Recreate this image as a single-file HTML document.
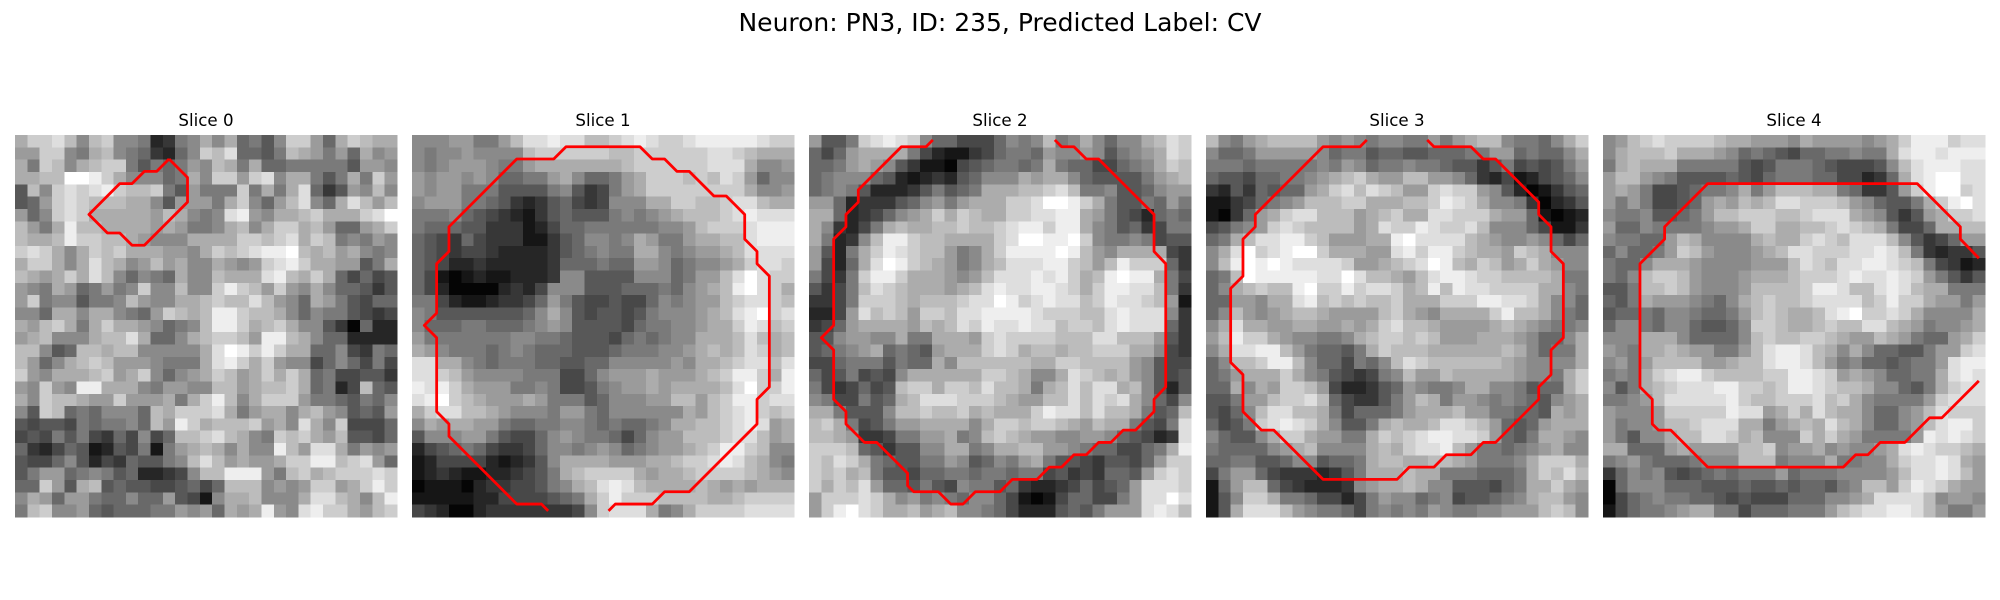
<!DOCTYPE html>
<html lang="en">
<head>
<meta charset="utf-8">
<title>Neuron: PN3, ID: 235, Predicted Label: CV</title>
<style>
html,body{margin:0;padding:0;background:#fff;width:2000px;height:600px;overflow:hidden}
svg{display:block}
text{font-family:"DejaVu Sans","Liberation Sans",sans-serif;fill:#000}
</style>
</head>
<body>
<svg id="figure" xmlns="http://www.w3.org/2000/svg" width="2000" height="600" viewBox="0 0 2000 600">
<rect x="0" y="0" width="2000" height="600" fill="#fff"/>
<text x="1000" y="31" text-anchor="middle" font-size="25">Neuron: PN3, ID: 235, Predicted Label: CV</text>
</svg>
<script>
const sliceTitles = ["Slice 0","Slice 1","Slice 2","Slice 3","Slice 4"];
const slice0 = [
[10,12,12,13,11,8,11,12,8,8,7,2,3,7,8,10,8,10,6,7,5,8,12,12,9,6,10,12,11,10,10],
[9,9,12,12,8,7,10,11,8,7,6,3,2,6,8,12,11,13,6,6,5,7,11,10,9,7,9,6,10,8,9],
[10,7,12,11,8,10,11,12,12,7,5,7,6,7,9,8,11,10,7,10,6,6,7,7,7,7,7,5,9,9,8],
[10,10,11,11,15,15,14,12,10,8,8,8,6,7,10,8,12,12,9,12,13,8,10,10,7,5,7,10,7,12,9],
[5,11,8,12,13,12,13,14,12,11,11,12,7,5,9,7,7,7,12,7,10,7,10,13,6,3,5,9,8,11,8],
[5,6,9,12,13,12,11,11,11,10,10,8,5,9,9,9,7,10,12,8,6,9,11,13,8,6,10,13,11,9,11],
[9,6,8,12,13,12,10,10,10,10,10,9,11,10,8,7,8,13,14,9,8,10,10,11,12,10,10,10,12,13,15],
[11,9,7,10,14,11,11,10,10,10,10,9,10,9,7,7,8,10,11,8,10,12,12,10,11,9,6,6,9,10,12],
[11,10,10,11,14,12,12,11,11,10,9,8,8,8,10,10,10,10,12,12,11,12,13,10,12,11,7,8,7,9,8],
[12,13,12,10,8,10,12,11,12,10,10,10,9,9,8,10,12,11,12,13,14,14,15,11,10,11,9,10,8,7,8],
[10,12,12,10,8,10,13,11,10,8,9,11,9,10,8,8,10,9,8,9,12,13,14,12,10,10,9,9,5,7,10],
[11,10,9,10,12,10,13,11,8,6,8,7,6,10,8,8,11,10,10,10,13,14,11,10,12,10,6,4,6,4,5],
[9,8,7,10,9,6,7,9,7,8,12,8,8,11,8,8,12,14,12,11,9,12,9,8,10,8,6,6,5,3,5],
[9,12,7,8,8,5,7,7,8,11,9,8,8,10,10,11,12,11,11,13,11,9,8,6,10,9,7,5,4,6,6],
[8,8,6,10,10,8,10,10,8,7,6,9,12,11,10,11,14,14,12,11,11,10,8,6,8,7,7,5,4,3,4],
[10,9,11,12,10,7,10,12,10,10,9,8,6,7,8,11,14,14,12,10,11,12,10,8,8,5,3,0,6,2,2],
[9,10,11,8,8,8,10,11,11,13,10,6,6,8,10,11,12,12,11,9,14,14,11,10,8,6,6,2,2,2,2],
[11,11,8,5,6,11,11,10,11,11,8,8,8,8,8,10,13,15,14,12,14,12,10,10,6,6,8,4,3,7,6],
[11,9,6,8,10,11,12,11,9,9,9,8,7,7,7,10,13,14,12,10,12,9,8,8,4,6,8,6,4,7,4],
[12,9,8,10,10,10,11,12,9,10,12,8,6,8,9,10,12,11,9,10,12,10,12,10,6,7,4,4,5,5,3],
[9,8,12,9,8,14,14,10,10,10,8,7,9,9,8,8,11,11,9,10,11,11,12,10,6,7,2,4,11,6,5],
[10,8,12,11,11,10,9,9,12,9,9,9,10,7,10,12,14,11,8,10,12,12,12,9,7,7,6,5,7,6,8],
[8,5,12,11,6,7,6,8,8,8,6,11,10,12,12,12,13,10,7,9,10,10,8,10,11,9,8,5,6,5,9],
[5,4,5,5,4,7,6,7,7,8,6,11,9,14,12,10,11,11,11,12,9,10,8,13,10,8,12,4,4,4,6],
[4,5,4,7,5,7,4,3,6,4,8,4,6,11,11,12,13,11,10,8,7,12,11,12,10,9,11,5,5,4,6],
[6,3,2,4,6,5,1,2,5,4,7,1,7,9,10,11,10,8,10,8,8,14,11,9,13,13,10,7,9,8,9],
[5,4,4,6,8,5,2,4,3,6,5,5,7,8,11,13,11,9,10,9,9,10,12,12,14,14,11,12,13,9,6],
[5,7,9,9,6,7,8,7,5,6,2,2,3,4,8,11,11,14,14,14,9,7,11,12,10,11,12,12,12,13,12],
[6,6,12,9,5,10,11,5,6,5,5,4,4,5,6,4,6,11,11,11,8,9,8,9,12,12,9,10,12,14,12],
[8,10,9,6,9,9,7,6,6,8,6,6,9,5,4,1,8,10,10,11,8,8,8,10,13,13,11,10,8,11,14],
[7,11,12,8,8,9,6,5,6,6,6,7,7,9,8,9,6,10,9,10,14,9,8,13,14,12,12,10,9,11,12]
];
const slice1 = [
[8,8,8,9,9,7,7,9,11,13,13,14,13,13,11,11,12,13,14,13,12,12,13,14,14,14,14,14,13,12,12],
[8,7,8,8,9,8,8,8,8,11,12,12,12,12,12,12,11,11,12,12,12,12,12,12,13,13,12,11,10,10,10],
[8,7,8,9,9,9,8,7,7,9,10,10,10,10,10,10,10,11,12,12,12,12,12,12,13,13,13,10,8,8,9],
[9,8,9,9,8,9,8,6,6,7,7,9,10,8,6,6,7,9,10,12,12,12,11,12,11,13,12,9,6,8,8],
[9,8,9,9,7,7,7,5,5,5,5,7,8,5,3,4,7,9,10,12,12,12,12,12,12,12,12,10,8,8,9],
[8,9,9,9,7,7,6,5,3,2,3,5,6,4,3,4,8,8,8,10,10,12,12,11,11,12,13,13,11,10,10],
[7,7,7,8,6,5,4,3,2,1,3,5,6,5,5,5,7,8,7,8,9,10,11,11,11,12,13,14,13,13,13],
[7,6,6,6,5,5,3,3,3,1,2,4,6,6,7,7,7,7,7,7,8,8,9,11,12,12,12,13,14,14,14],
[6,5,4,3,6,4,3,3,3,1,1,3,5,6,8,8,7,8,10,9,7,7,9,10,10,11,11,13,14,14,14],
[6,5,4,3,4,4,3,2,2,2,2,3,5,6,7,8,7,7,10,10,8,7,8,9,9,10,11,13,13,13,13],
[6,5,4,2,2,3,2,2,2,2,2,3,6,6,6,7,6,6,9,9,8,6,7,8,8,9,10,12,13,13,12],
[6,4,1,0,1,2,1,1,2,2,2,3,8,8,5,5,5,5,8,8,8,6,7,9,9,11,13,15,13,12,12],
[6,4,2,0,0,0,0,2,3,2,4,8,8,8,5,5,5,6,6,6,7,6,8,9,10,11,14,15,13,12,10],
[7,7,4,2,1,1,2,3,3,4,6,9,7,5,4,4,5,4,4,6,8,7,8,9,9,11,12,13,13,12,11],
[8,7,5,5,5,5,5,5,5,6,8,10,8,5,4,5,5,4,5,7,8,8,8,9,10,11,13,14,15,12,13],
[8,6,6,6,7,7,6,6,6,7,8,9,8,5,5,5,5,4,6,7,7,8,8,9,10,10,12,14,13,11,12],
[9,7,7,7,7,7,7,7,8,8,7,7,6,5,5,5,4,6,7,6,7,8,8,10,10,10,11,13,11,10,11],
[10,9,8,7,7,7,6,7,8,7,6,6,6,5,5,5,6,7,7,7,8,8,9,10,11,10,11,13,12,10,11],
[13,13,10,10,8,7,6,7,7,7,6,6,5,5,6,6,8,8,8,8,8,9,8,10,10,11,12,13,13,11,13],
[13,13,12,11,9,8,8,8,8,7,7,7,4,4,6,8,9,9,9,10,9,9,9,10,11,12,14,14,12,10,14],
[14,13,14,12,10,9,9,9,7,7,8,7,4,4,5,7,8,9,9,10,9,10,10,10,10,11,13,15,12,12,14],
[13,14,15,12,11,10,9,9,9,10,9,7,7,7,5,6,8,8,8,9,9,11,11,9,11,12,14,14,12,13,13],
[10,12,13,13,11,11,10,9,8,8,8,7,9,9,7,6,8,8,8,8,8,8,10,9,11,12,13,14,12,11,12],
[8,10,9,10,10,9,9,7,6,6,7,7,8,8,7,6,7,6,6,7,8,10,10,11,11,12,13,14,13,9,10],
[5,8,8,8,9,9,7,5,4,4,6,8,9,8,7,7,6,4,6,8,9,9,11,11,11,12,13,13,11,9,10],
[2,4,5,6,7,6,4,3,3,4,6,8,8,7,8,9,8,6,7,8,9,9,10,11,12,14,14,12,11,8,8],
[1,2,4,4,4,4,2,1,2,3,5,8,10,10,10,10,9,9,9,10,10,11,12,12,13,14,13,11,10,8,7],
[1,2,3,2,1,1,2,2,3,4,5,7,10,11,12,12,12,12,10,9,10,10,11,12,12,12,12,11,10,9,8],
[0,1,1,1,0,2,3,3,4,4,5,7,8,10,11,13,14,13,11,10,10,10,10,11,10,9,10,9,10,10,10],
[1,1,1,1,1,2,2,4,4,4,4,5,6,7,10,12,14,12,12,12,11,11,11,11,10,10,11,12,12,12,12],
[4,3,2,0,0,2,3,3,3,3,3,3,3,4,8,12,13,13,13,10,7,8,10,12,12,12,12,13,13,13,13]
];
const slice2 = [
[9,5,5,7,12,13,14,13,12,8,6,6,4,4,4,6,8,7,8,11,7,8,10,8,6,8,8,10,11,13,12],
[6,4,6,9,10,10,10,10,7,4,2,1,1,3,4,6,7,7,6,9,8,8,9,8,5,7,8,9,10,13,12],
[6,6,7,9,10,9,8,5,3,1,1,0,4,5,6,7,7,6,7,10,7,6,6,4,4,6,7,8,10,12,11],
[6,7,8,8,8,6,5,2,1,2,3,2,5,6,8,8,8,10,9,10,10,8,6,5,5,5,5,7,9,10,11],
[6,7,8,7,5,2,2,2,3,5,7,5,6,7,10,10,10,11,11,12,13,11,7,7,8,5,5,6,8,9,9],
[9,9,6,2,3,3,3,5,6,8,9,7,9,10,10,10,12,12,13,15,15,14,12,10,7,5,5,7,6,9,7],
[10,10,6,2,3,4,6,8,9,10,12,10,12,11,10,10,12,12,13,13,14,14,10,9,7,5,4,2,6,7,6],
[10,8,3,2,4,7,10,11,10,10,11,11,12,11,11,12,13,14,14,12,14,14,10,8,7,5,6,3,4,7,7],
[10,7,2,3,8,11,14,14,12,11,11,10,10,10,10,12,13,15,15,14,14,15,12,8,7,7,8,7,4,5,5],
[9,5,2,7,10,12,14,13,12,11,11,9,7,8,10,12,14,14,14,14,15,14,11,9,8,10,10,10,10,4,3],
[9,4,2,6,10,13,15,14,12,11,10,9,7,8,10,11,13,13,13,14,14,12,11,9,11,14,12,12,12,6,3],
[7,4,3,7,12,14,14,12,10,10,10,9,8,9,11,13,13,13,14,13,14,12,10,11,14,15,14,14,10,7,4],
[5,3,4,7,11,13,12,11,10,10,10,9,10,11,13,14,13,13,14,14,13,12,10,12,14,14,13,13,11,7,3],
[3,3,4,7,12,12,12,11,10,11,11,11,12,13,13,15,14,12,13,14,13,13,11,12,14,13,13,12,11,9,1],
[2,2,4,9,13,11,12,11,9,12,12,11,13,13,14,14,14,14,13,12,12,12,11,11,13,14,13,13,13,8,3],
[3,4,6,9,10,10,10,10,9,11,10,11,13,12,14,13,13,14,13,13,11,12,12,11,13,14,13,13,13,6,3],
[5,5,8,9,9,8,8,10,7,7,10,10,10,9,12,13,12,12,12,12,11,11,11,13,13,11,11,11,9,5,3],
[5,6,7,8,9,10,6,7,6,5,9,10,10,10,12,13,12,10,11,11,10,11,11,12,12,12,10,10,8,4,3],
[4,4,6,7,7,7,5,7,6,6,10,8,11,11,11,11,11,11,10,10,12,12,11,11,11,11,9,8,5,4,4],
[6,4,5,7,4,5,4,8,10,10,10,10,10,10,12,12,11,10,8,8,10,13,12,11,10,11,9,8,5,4,5],
[7,4,3,4,6,4,5,11,12,12,10,12,12,11,13,11,11,10,7,10,11,13,11,13,13,10,11,8,5,2,5],
[8,7,4,4,7,5,6,10,11,13,13,13,12,12,12,11,10,9,9,11,11,13,11,13,12,13,10,8,6,4,8],
[10,10,7,5,5,5,8,11,11,12,11,11,12,10,11,10,10,10,12,14,13,13,11,13,11,11,10,7,5,6,11],
[11,12,10,7,4,5,7,9,9,10,10,10,10,8,10,12,12,11,12,12,11,10,9,11,10,10,7,5,4,7,13],
[11,11,10,9,3,3,4,7,7,9,9,10,7,8,11,12,11,10,9,9,8,8,9,9,8,6,5,4,2,3,13],
[12,12,12,11,6,5,3,5,5,8,8,10,10,7,8,10,10,11,11,9,9,8,7,6,6,4,4,6,7,10,14],
[12,11,13,12,10,7,6,5,5,7,7,9,8,5,6,8,7,9,10,7,5,5,4,3,5,5,4,6,9,12,12],
[12,11,12,10,11,7,5,5,4,6,6,7,7,6,7,7,6,7,7,4,5,3,4,3,6,6,5,9,12,13,12],
[12,10,12,11,13,9,6,6,5,7,5,4,8,7,7,5,6,3,2,2,3,4,6,4,5,6,9,13,13,13,12],
[9,12,12,12,13,12,10,8,9,7,8,7,6,8,8,6,4,1,0,1,4,6,6,4,4,7,9,13,13,15,13],
[9,12,14,15,13,12,10,10,11,9,10,11,8,8,7,6,4,2,2,2,5,6,5,7,9,9,9,13,14,13,11]
];
const slice3 = [
[11,8,7,9,10,11,11,11,11,9,8,9,8,7,8,8,7,7,9,7,9,10,11,11,8,7,7,6,8,10,12],
[8,6,6,7,9,9,9,9,9,8,6,7,7,5,6,6,5,5,6,6,6,7,7,9,9,6,7,6,6,8,10],
[7,7,7,6,7,7,7,7,7,8,7,9,8,6,7,7,8,7,7,6,5,5,3,5,7,4,5,4,5,7,9],
[6,5,5,4,6,6,7,7,8,9,10,11,12,10,9,9,11,11,9,9,8,6,3,2,4,1,2,4,5,6,8],
[3,2,5,3,6,5,6,6,9,10,12,13,11,13,12,11,9,9,12,13,12,12,9,8,5,2,0,1,3,5,6],
[1,1,3,4,6,7,8,9,11,11,11,12,12,10,10,10,11,11,12,14,13,12,10,8,8,7,3,0,2,3,5],
[1,0,3,6,9,10,12,13,13,11,11,11,9,10,11,12,10,10,13,13,12,12,12,10,9,9,6,1,0,1,2],
[4,5,7,8,9,12,13,12,11,11,11,11,9,10,13,12,12,14,13,12,12,13,11,8,8,8,6,4,1,1,3],
[6,7,10,11,13,13,14,14,12,11,9,9,9,10,10,14,15,13,13,13,13,11,10,9,8,8,9,8,6,4,6],
[8,10,13,15,12,13,14,15,15,12,10,10,10,9,9,13,14,12,14,14,12,11,10,10,9,12,11,10,8,8,8],
[8,11,14,15,14,15,14,13,13,13,13,12,9,9,10,11,12,13,15,14,11,10,12,11,9,10,12,10,9,8,8],
[6,7,11,15,14,14,14,14,14,13,13,15,13,11,11,10,9,11,13,14,14,13,12,12,11,11,11,11,10,7,7],
[6,8,10,11,12,11,11,14,15,12,12,14,12,13,13,12,10,11,14,11,14,13,13,12,12,12,12,10,10,8,7],
[6,6,9,9,8,10,10,13,14,11,12,11,12,11,11,12,10,10,10,12,12,12,14,14,13,13,12,10,8,8,6],
[6,8,11,9,8,9,10,11,11,10,9,9,9,9,11,12,10,9,8,10,10,10,10,12,14,11,11,10,8,7,6],
[8,10,13,10,10,9,9,10,10,9,9,10,9,10,12,13,11,11,10,9,9,9,9,10,11,10,9,8,7,7,8],
[9,11,14,12,12,10,9,8,8,7,7,8,10,11,12,12,11,12,11,9,9,9,10,10,10,9,8,6,6,8,10],
[8,10,13,13,14,14,11,9,7,6,6,5,7,10,12,11,11,11,10,10,10,10,10,10,11,10,8,6,7,7,10],
[6,8,11,11,12,14,14,11,8,6,6,4,7,6,8,11,13,12,11,11,11,11,11,11,10,9,8,8,8,8,10],
[6,7,9,10,10,10,12,10,8,7,5,4,3,4,7,8,11,9,9,11,10,10,10,10,10,9,8,8,7,10,12],
[6,6,10,8,10,9,12,12,11,9,4,2,2,3,5,6,9,8,7,7,8,10,10,8,8,7,5,6,6,10,12],
[5,5,7,9,9,11,12,12,13,11,6,4,3,3,5,7,9,11,10,7,9,9,8,7,8,7,6,5,8,9,10],
[5,4,6,8,11,13,13,11,11,10,7,4,6,6,6,7,9,10,10,10,11,9,9,7,7,6,6,5,10,9,10],
[6,4,5,7,12,13,14,13,12,10,8,5,5,7,10,11,10,10,11,13,13,12,11,9,6,5,6,9,10,10,10],
[8,6,5,5,8,10,12,12,10,9,9,7,7,10,12,11,12,13,14,14,13,13,12,9,6,5,7,10,10,9,8],
[7,6,6,6,6,8,9,10,11,8,8,8,8,10,11,10,12,13,13,14,11,9,7,7,6,7,8,9,10,8,8],
[6,6,7,7,5,5,6,8,8,5,6,6,7,10,11,11,10,10,11,11,10,9,7,7,7,8,10,12,12,12,10],
[4,7,9,9,6,4,3,3,3,2,3,5,7,10,10,10,11,10,10,7,7,7,6,6,6,7,10,12,11,13,11],
[1,6,9,11,11,6,4,3,2,2,2,3,8,9,10,10,11,10,8,8,5,5,5,4,6,7,10,10,12,10,9],
[1,5,8,12,12,10,7,7,6,4,4,2,4,7,9,8,8,6,7,8,4,5,5,6,7,8,10,11,11,9,8],
[1,5,10,13,13,13,11,9,8,7,7,6,4,7,8,7,8,7,9,8,7,7,8,8,9,9,9,11,12,11,8]
];
const slice4 = [
[8,9,11,12,13,12,12,12,12,11,10,10,9,9,9,8,10,9,9,9,9,8,9,10,12,14,14,14,12,13,13],
[8,10,11,11,11,12,10,10,10,9,8,6,7,6,5,4,6,6,7,7,8,7,7,10,13,14,14,13,14,14,14],
[7,10,11,10,10,10,7,7,7,7,7,5,4,5,7,7,7,6,5,4,4,4,5,8,11,13,14,14,14,13,13],
[9,11,11,9,8,7,5,5,5,5,6,5,4,6,7,7,7,6,6,4,4,2,3,6,10,13,14,15,15,13,13],
[9,10,9,7,4,4,5,6,7,7,8,10,7,9,11,11,11,10,10,7,6,3,3,5,9,12,14,15,15,12,13],
[9,7,9,7,4,4,5,6,9,10,9,11,10,11,13,13,12,12,12,11,9,8,6,5,5,7,10,12,14,15,13],
[8,7,7,8,5,5,6,7,9,11,11,12,12,12,11,11,12,13,13,13,10,9,8,5,3,5,9,10,12,12,13],
[9,6,6,8,7,7,7,7,8,9,9,10,12,12,10,10,11,11,12,13,12,11,10,7,4,4,6,10,10,11,11],
[8,7,7,6,6,9,11,10,8,8,8,8,10,11,10,10,12,13,12,11,13,13,13,11,8,5,3,4,6,9,9],
[6,8,6,6,7,9,12,11,9,8,8,8,9,10,11,13,13,12,12,12,13,13,14,13,11,7,3,2,3,3,5],
[7,6,6,8,10,10,10,9,8,8,8,8,9,9,9,11,13,12,11,13,13,14,14,13,12,11,7,4,3,1,2],
[7,6,8,11,12,12,11,9,8,8,8,9,10,10,10,11,12,12,12,13,14,13,13,14,13,12,9,7,5,3,5],
[5,5,7,11,11,12,11,9,8,8,8,9,11,11,11,11,12,14,14,13,11,11,13,14,13,11,10,10,7,7,7],
[6,5,7,10,9,9,9,8,7,6,8,10,11,12,11,11,12,13,13,13,13,11,12,14,12,12,10,9,9,7,9],
[5,6,6,7,6,8,8,7,6,6,7,9,11,12,11,10,10,11,13,14,15,12,12,13,12,10,8,8,8,8,10],
[6,8,8,7,6,8,8,6,5,5,6,8,12,12,11,10,10,11,12,11,11,13,13,11,10,9,7,8,8,9,10],
[8,8,8,10,10,10,8,6,6,6,6,8,11,12,11,11,12,12,11,10,9,9,11,10,9,7,6,6,9,10,12],
[9,8,7,10,10,11,10,9,9,7,7,9,11,13,14,14,13,11,10,8,10,8,6,6,5,5,7,9,9,12,13],
[8,9,7,9,11,11,11,11,9,9,10,11,11,13,14,14,13,11,9,7,8,6,6,5,6,7,7,9,13,14,14],
[7,8,7,10,12,13,14,14,12,11,11,11,11,12,12,14,14,13,12,9,10,9,8,6,6,7,7,10,13,14,13],
[8,5,7,10,11,12,13,13,13,14,14,12,12,11,12,14,14,13,12,11,11,10,8,8,6,5,7,10,12,13,13],
[7,7,8,9,11,13,13,13,13,13,14,12,11,11,12,12,12,13,11,12,10,8,7,7,7,7,9,12,13,13,13],
[9,8,8,8,9,12,12,12,12,12,14,13,13,9,10,12,10,13,11,10,10,8,6,6,8,9,11,13,12,12,12],
[9,7,8,8,9,11,11,12,13,13,13,10,10,7,9,10,11,10,13,11,10,8,6,6,8,9,11,13,14,14,12],
[9,7,5,8,8,10,11,11,13,13,12,10,11,8,8,8,12,10,12,10,9,7,7,7,7,9,14,13,14,13,12],
[10,10,6,6,6,9,10,9,9,9,9,11,11,12,8,9,9,10,8,9,8,8,9,10,13,14,13,12,12,11,10],
[7,8,9,7,6,6,6,7,8,8,8,11,11,11,7,8,8,8,10,7,7,8,8,10,12,13,13,14,13,10,9],
[3,6,8,7,8,5,4,5,6,7,6,7,7,7,9,6,7,7,7,8,8,8,8,9,11,13,13,14,13,11,9],
[0,6,8,8,8,6,6,6,5,5,5,6,5,5,6,5,6,6,5,7,8,11,11,9,12,14,13,12,10,9,9],
[0,4,6,7,8,7,7,6,6,5,4,5,4,4,4,6,6,6,8,8,9,10,13,13,13,13,11,8,9,9,8],
[1,4,6,7,7,8,9,10,10,7,7,4,6,6,6,7,7,7,9,11,12,13,13,14,14,13,11,9,7,7,9]
];
const contour0 = [[12,1.45],[13.5,2.95],[13.5,4.95],[10,8.45],[9,8.45],[8,7.45],[7,7.45],[5.5,5.95],[8,3.45],[9,3.45],[10,2.45],[11,2.45],[12,1.45]];
const contour1 = [[10.55,30],[10,29.45],[8,29.45],[2.5,23.95],[2.5,22.95],[1.5,21.95],[1.5,15.95],[0.5,14.95],[1.5,13.95],[1.5,9.95],[2.5,8.95],[2.5,6.95],[8,1.45],[11,1.45],[12,0.45],[18,0.45],[19,1.45],[20,1.45],[21,2.45],[22,2.45],[24,4.45],[25,4.45],[26.5,5.95],[26.5,7.95],[27.5,8.95],[27.5,9.95],[28.5,10.95],[28.5,19.95],[27.5,20.95],[27.5,22.95],[22,28.45],[20,28.45],[19,29.45],[16,29.45],[15.45,30]];
const contour2 = [[9.55,-0.1],[9,0.45],[7,0.45],[3.5,3.95],[3.5,4.95],[2.5,5.95],[2.5,6.95],[1.5,7.95],[1.5,14.95],[0.5,15.95],[1.5,16.95],[1.5,20.95],[2.5,21.95],[2.5,22.95],[4,24.45],[5,24.45],[7.5,26.95],[7.5,27.95],[8,28.45],[10,28.45],[11,29.45],[12,29.45],[13,28.45],[15,28.45],[16,27.45],[18,27.45],[19,26.45],[20,26.45],[21,25.45],[22,25.45],[23,24.45],[24,24.45],[25,23.45],[26,23.45],[27.5,21.95],[27.5,20.95],[28.45,19.95],[28.45,9.95],[27.5,8.95],[27.5,5.95],[23,1.45],[22,1.45],[21,0.45],[20,0.45],[19.45,-0.1]];
const contour3 = [[12.55,-0.1],[12,0.45],[9,0.45],[3.5,5.95],[3.5,6.95],[2.5,7.95],[2.5,10.95],[1.5,11.95],[1.5,17.95],[2.5,18.95],[2.5,21.95],[4,23.45],[5,23.45],[9,27.45],[15,27.45],[16,26.45],[18,26.45],[19,25.45],[21,25.45],[22,24.45],[23,24.45],[26.5,20.95],[26.5,19.95],[27.5,18.95],[27.5,16.95],[28.5,15.95],[28.5,9.95],[27.5,8.95],[27.5,6.95],[26.5,5.95],[26.5,4.95],[23,1.45],[22,1.45],[21,0.45],[18,0.45],[17.45,-0.1]];
const contour4 = [[30,9.5],[28.5,7.95],[28.5,6.95],[25,3.45],[8,3.45],[4.5,6.95],[4.5,7.95],[2.5,9.95],[2.5,19.95],[3.5,20.95],[3.5,22.95],[4,23.45],[5,23.45],[8,26.45],[19,26.45],[20,25.45],[21,25.45],[22,24.45],[24,24.45],[26,22.45],[27,22.45],[30,19.45]];
const sliceImages = [slice0, slice1, slice2, slice3, slice4];
const sliceContours = [contour0, contour1, contour2, contour3, contour4];

const SVG_NS = "http://www.w3.org/2000/svg";
const figure = document.getElementById("figure");
const panelStart = 15;
const panelStep = 397;
const panelSize = 382;
const panelTop = 135;
const gridSize = 31;
const maxValue = 15;
const levelOffset = 0.3;

function xScale(panelIndex, dataX) {
  return panelStart + panelIndex * panelStep + (dataX + 0.5) * panelSize / gridSize;
}
function yScale(dataY) {
  return panelTop + (dataY + 0.5) * panelSize / gridSize;
}
function grayScale(value) {
  const g = Math.max(0, Math.min(255, Math.round((value + levelOffset) / (maxValue + levelOffset) * 255)));
  return "rgb(" + g + "," + g + "," + g + ")";
}

sliceImages.forEach(function (image, p) {
  const panel = document.createElementNS(SVG_NS, "g");
  
  
  figure.appendChild(panel);

  const heat = document.createElementNS(SVG_NS, "g");
  
  
  heat.setAttribute('shape-rendering', 'crispEdges');
  panel.appendChild(heat);

  image.forEach(function (row, r) {
    row.forEach(function (value, c) {
      const x0 = xScale(p, c - 0.5);
      const x1 = xScale(p, c + 0.5);
      const y0 = yScale(r - 0.5);
      const y1 = yScale(r + 0.5);
      const cell = document.createElementNS(SVG_NS, "rect");
      
      
      cell.setAttribute('x', x0);
      cell.setAttribute('y', y0);
      cell.setAttribute('width', x1 - x0 + 0.3);
      cell.setAttribute('height', y1 - y0 + 0.3);
      cell.setAttribute('fill', grayScale(value));
      heat.appendChild(cell);
    });
  });

  const line = document.createElementNS(SVG_NS, "polyline");
  
  
  line.setAttribute('points', sliceContours[p].map(function (pt) {
    return xScale(p, pt[0]).toFixed(2) + "," + yScale(pt[1]).toFixed(2);
  }).join(" "));
  line.setAttribute('fill', 'none');
  line.setAttribute('stroke', '#ff0000');
  line.setAttribute('stroke-width', '2.78');
  line.setAttribute('stroke-linejoin', 'round');
  panel.appendChild(line);

  const title = document.createElementNS(SVG_NS, "text");
  
  
  title.setAttribute('x', panelStart + p * panelStep + panelSize / 2);
  title.setAttribute('y', 126);
  title.setAttribute('text-anchor', 'middle');
  title.setAttribute('font-size', '16.67');
  title.textContent = sliceTitles[p];
  panel.appendChild(title);
});
</script>
</body>
</html>
